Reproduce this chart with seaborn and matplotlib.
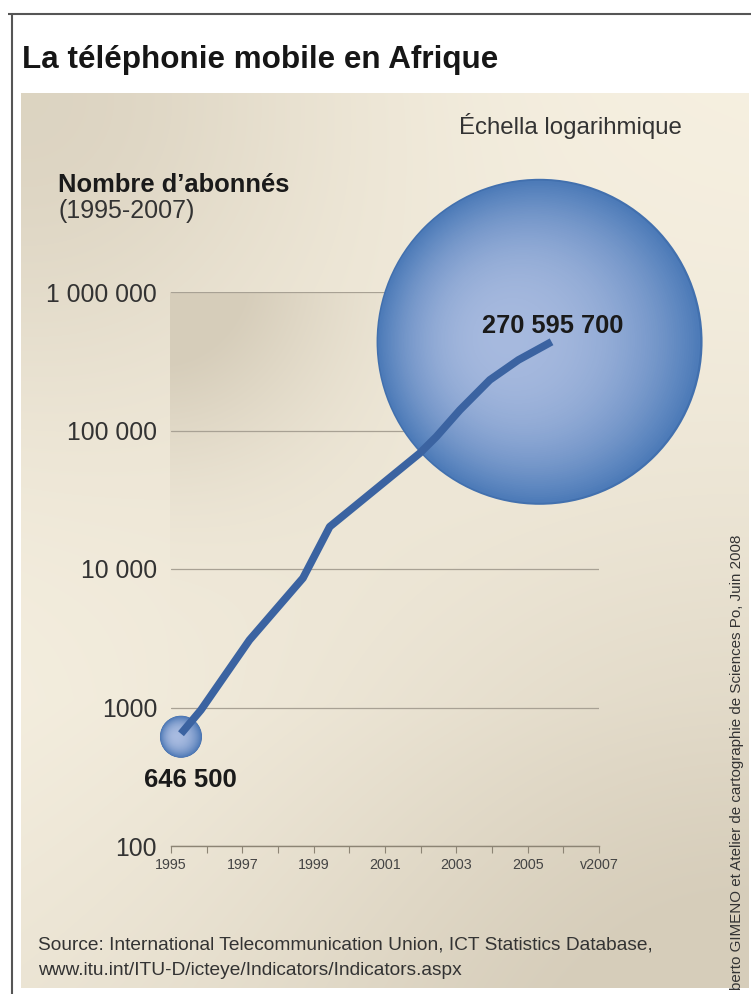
import numpy as np
import pandas as pd
import matplotlib
matplotlib.use("Agg")
import matplotlib.pyplot as plt
import matplotlib.transforms as mtransforms
from matplotlib.patches import Circle
from matplotlib.colors import to_rgb
from matplotlib.ticker import NullLocator
import seaborn as sns

# Nombre d'abonnés (en milliers)
annees = [1995.28, 1995.84, 1997.2, 1998.7, 1999.45, 2001.97, 2002.44, 2003.1, 2003.94, 2004.74, 2005.67]
abonnes = [646.5, 960, 3070, 8600, 20200, 68400, 90200, 140600, 232000, 323000, 437000]
etiquettes = ["646 500", "270 595 700"]

y_ticks = [100, 1000, 10000, 100000, 1000000]
y_tick_labels = ["100", "1000", "10 000", "100 000", "1 000 000"]
x_ticks = list(range(1995, 2008))
x_tick_labels = ["1995", "", "1997", "", "1999", "", "2001", "", "2003", "", "2005", "", "v2007"]

W, H = 751, 994
sns.set_theme(style="white")
plt.rcParams["font.family"] = ["Liberation Sans", "DejaVu Sans"]

fig = plt.figure(figsize=(W / 100, H / 100), dpi=100, facecolor="white")
# pixel coordinates, origin top-left
tp = mtransforms.Affine2D().scale(1 / W, -1 / H).translate(0, 1) + fig.transFigure

# beige panel behind everything
bg = fig.add_axes([0, 0, 1, 1], zorder=0)
bg.set_xlim(0, W)
bg.set_ylim(H, 0)
bg.axis("off")
X, Y = np.meshgrid(np.arange(21, 749) + 0.5, np.arange(93, 988) + 0.5)
base = np.array([247, 241, 226]) / 255
dark = np.array([214, 205, 186]) / 255
w = 0.8 * np.exp(-((X - 21) ** 2 + (Y - 93) ** 2) / (2 * 240 ** 2))
w += 0.85 * np.exp(-((X - 748) ** 2 + (Y - 988) ** 2) / (2 * 360 ** 2))
w += 0.25 * np.clip((Y - 700) / 300, 0, 1)
inner = (X >= 170) & (X <= 600) & (Y >= 292) & (Y <= 846)
w += inner * 0.7 * np.exp(-((X - 170) ** 2 + (Y - 292) ** 2) / (2 * 120 ** 2))
w = np.clip(w, 0, 1)[..., None]
bg.imshow(base * (1 - w) + dark * w, extent=(21, 749, 988, 93), aspect="auto", interpolation="bilinear")
bg.plot([8, 751], [14, 14], color="#555555", lw=1.5, solid_capstyle="butt")
bg.plot([12, 12], [14, 994], color="#555555", lw=1.5, solid_capstyle="butt")

# main chart
ax = fig.add_axes([171 / W, 1 - 846 / H, (599 - 171) / W, (846 - 292) / H], zorder=1)
ax.set_facecolor("none")
df = pd.DataFrame({"annee": annees, "abonnes": abonnes})
sns.lineplot(data=df, x="annee", y="abonnes", ax=ax, color="#3b63a1", lw=5.5,
             zorder=4, solid_capstyle="butt")
ax.set_yscale("log")
ax.set_xlim(1995, 2007)
ax.set_ylim(100, 1e6)
ax.set_xlabel("")
ax.set_ylabel("")


def bulle(x, y, rayon, dx, dy, clair, fonce, bord):
    # bubble of fixed pixel size around a data point
    trans = (fig.dpi_scale_trans + mtransforms.Affine2D().translate(dx, dy)
             + mtransforms.ScaledTranslation(x, y, ax.transData))
    r = rayon / 100
    c1, c2 = np.array(to_rgb(clair)), np.array(to_rgb(fonce))
    ax.add_patch(Circle((0, 0), r, transform=trans, facecolor=bord, edgecolor="none",
                        clip_on=False, zorder=2))
    for s in np.linspace(0.988, 0.02, 90):
        t = s ** 2.4
        col = c1 * (1 - t) + c2 * t
        ax.add_patch(Circle((-0.22 * r * (1 - s), 0.03 * r * (1 - s)), s * r, transform=trans,
                            facecolor=col, edgecolor="none", clip_on=False, zorder=2))


bulle(annees[0], abonnes[0], 21, 0, -3, "#a8bbe0", "#4a76b4", "#3d66a5")
bulle(annees[-1], abonnes[-1], 163, -12, 0, "#a6b9de", "#4a79b7", "#4270ae")

ax.annotate(etiquettes[0], xy=(annees[0], abonnes[0]), xytext=(9, -46), textcoords="offset pixels",
            ha="center", va="center", fontsize=18.5, fontweight="bold", color="#1a1a1a",
            zorder=5, annotation_clip=False)
ax.annotate(etiquettes[1], xy=(annees[-1], abonnes[-1]), xytext=(1, 16), textcoords="offset pixels",
            ha="center", va="center", fontsize=18.3, fontweight="bold", color="#1a1a1a",
            zorder=5, annotation_clip=False)

ax.set_yticks(y_ticks, y_tick_labels)
ax.yaxis.set_minor_locator(NullLocator())
ax.set_xticks(x_ticks, x_tick_labels)
ax.tick_params(axis="y", left=False, length=0, pad=10, labelsize=17.8, labelcolor="#333333")
ax.tick_params(axis="x", bottom=True, length=5, width=0.8, color="#8c8474", direction="out",
               labelsize=10.3, labelcolor="#444444", pad=3.5)
ax.grid(axis="y", color="#a8a194", lw=0.9)
ax.grid(axis="x", visible=False)
ax.set_axisbelow(True)
for side in ["top", "right", "left"]:
    ax.spines[side].set_visible(False)
ax.spines["bottom"].set_color("#8c8474")
ax.spines["bottom"].set_linewidth(1)

# texts
fig.text(22, 68, "La téléphonie mobile en Afrique", transform=tp, fontsize=22.6,
         fontweight="bold", color="#161616", va="baseline")
fig.text(459, 134, "Échella logarihmique", transform=tp, fontsize=17.3, color="#333333", va="baseline")
fig.text(58, 192, "Nombre d’abonnés", transform=tp, fontsize=18.4, fontweight="bold",
         color="#1a1a1a", va="baseline")
fig.text(58, 218, "(1995-2007)", transform=tp, fontsize=18, color="#333333", va="baseline")
fig.text(38, 950, "Source: International Telecommunication Union, ICT Statistics Database,",
         transform=tp, fontsize=13.8, color="#333333", va="baseline")
fig.text(38, 975, "www.itu.int/ITU-D/icteye/Indicators/Indicators.aspx",
         transform=tp, fontsize=13.8, color="#333333", va="baseline")
fig.text(737, 990, "berto GIMENO et Atelier de cartographie de Sciences Po, Juin 2008",
         transform=tp, rotation=90, ha="center", va="bottom", fontsize=10.9, color="#333333")

fig.savefig("out.png", dpi=100)
